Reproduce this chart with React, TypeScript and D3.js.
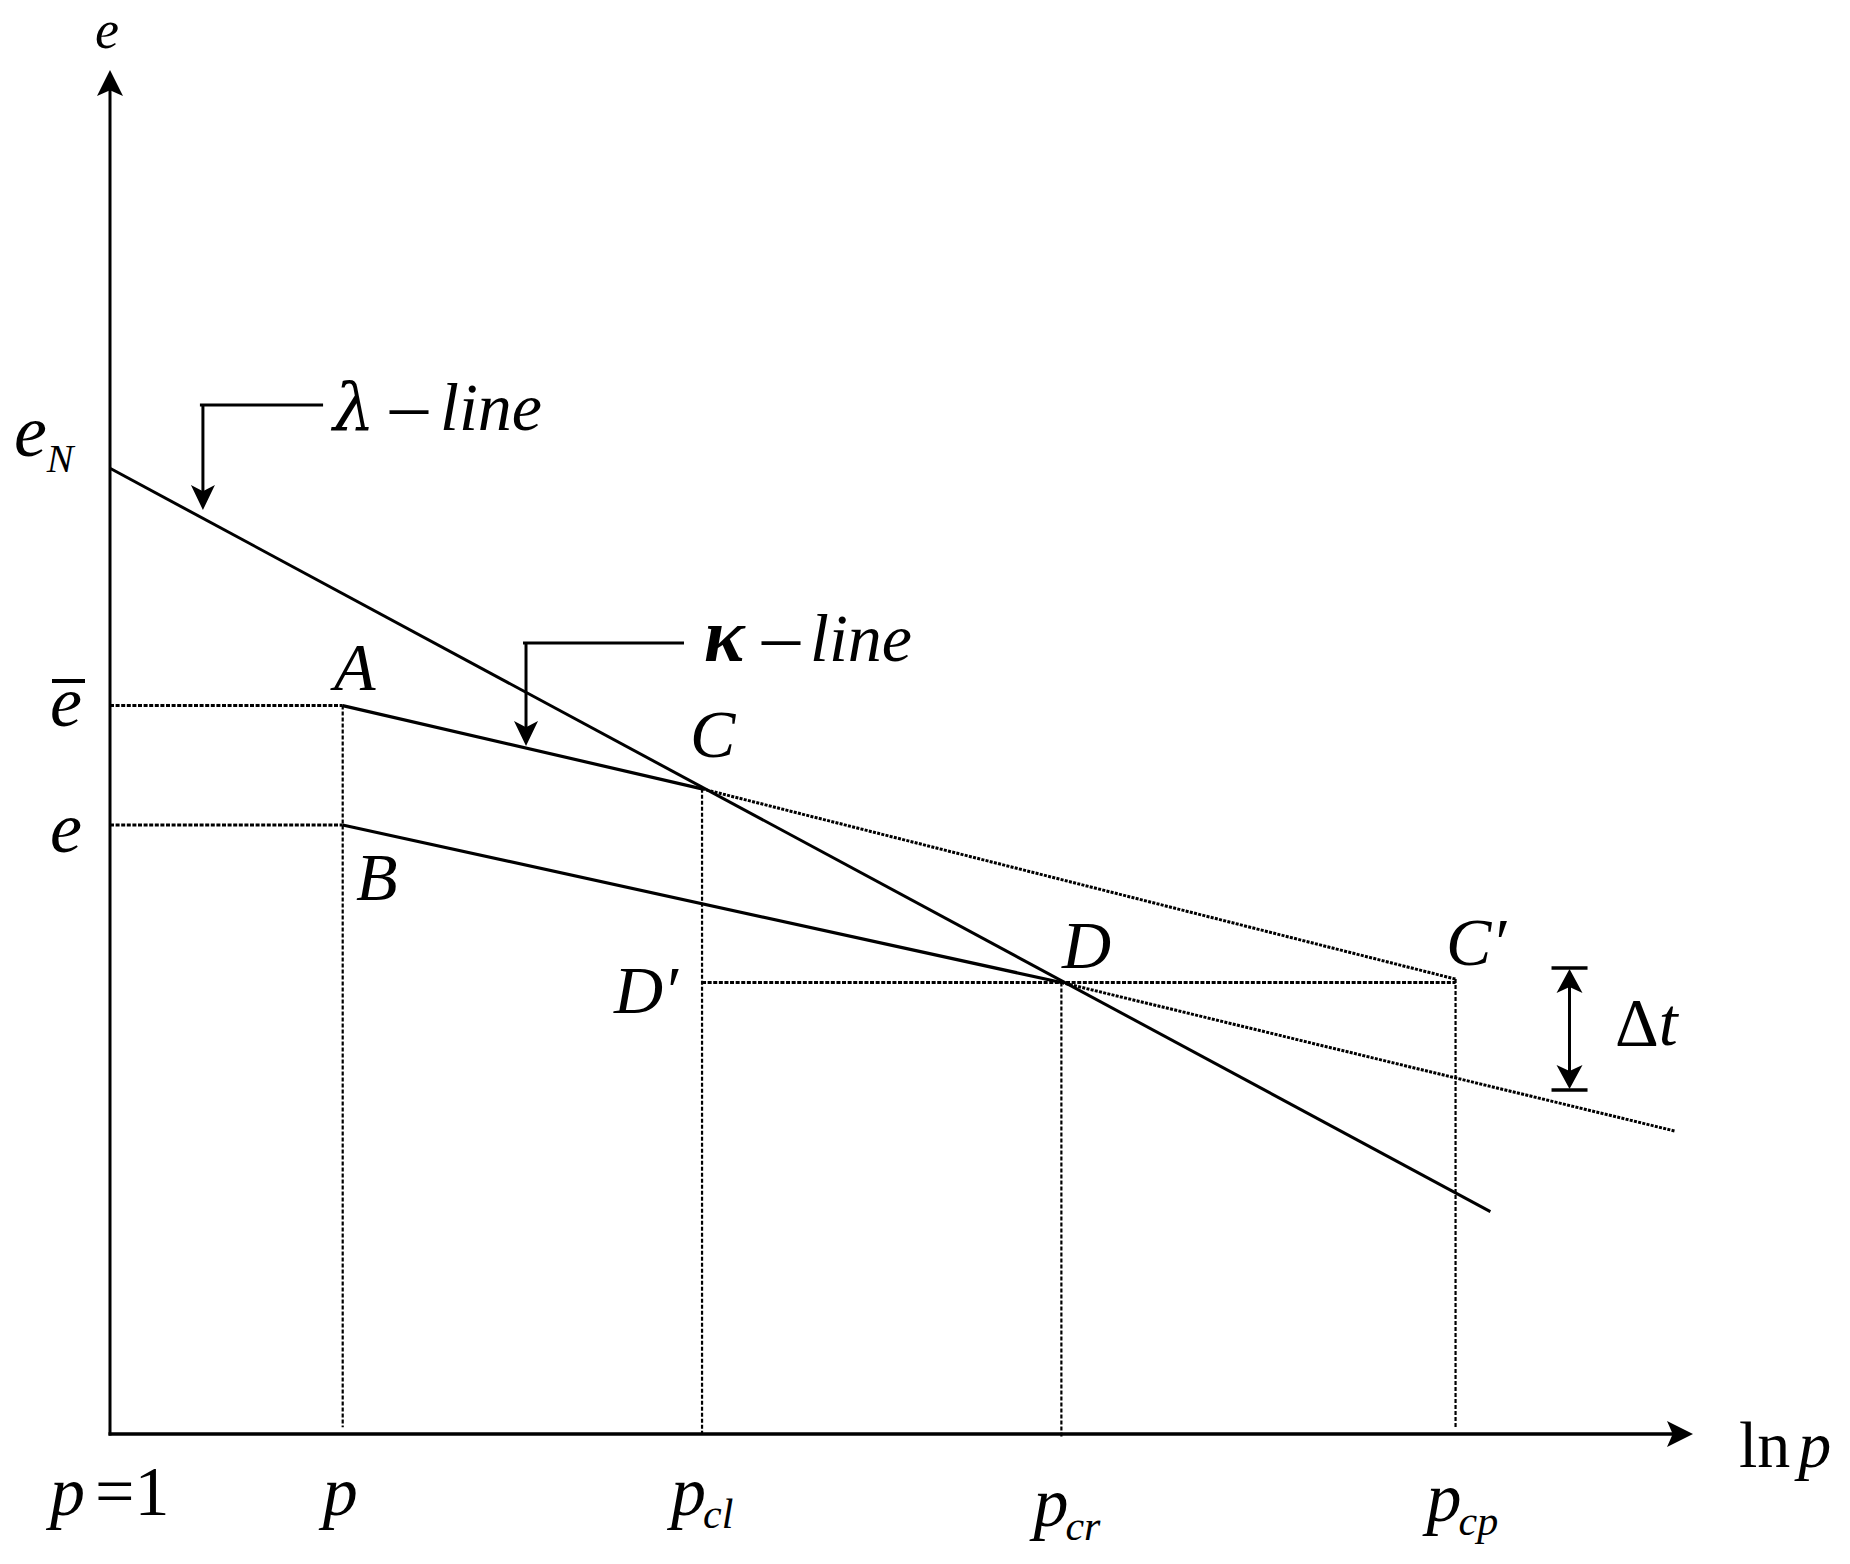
import React from "react";
import * as d3 from "d3";

const W = 1850;
const H = 1564;

// abstract axis domains: ln p (horizontal) and void ratio e (vertical)
const xDomain = [0, 10];
const yDomain = [0, 10];

// characteristic ln p positions
const pTickNames = ["p", "pcl", "pcr", "pcp"];
const pTickValues = [1.47, 3.74, 6.01, 8.5];

// e levels on the vertical axis
const eNValue = 7.08;
const eBarValue = 5.34;
const eValue = 4.465;

// λ-line (normal compression line)
const lambdaLine = [
  { x: 0, y: 7.08 },
  { x: 8.72, y: 1.63 },
];
// upper κ-line A → C (solid) and C → C′ (dotted)
const kappaUpperSolid = [
  { x: 1.47, y: 5.34 },
  { x: 3.74, y: 4.73 },
];
const kappaUpperDotted = [
  { x: 3.74, y: 4.73 },
  { x: 8.5, y: 3.335 },
];
// lower κ-line B → D (solid) and D → end (dotted)
const kappaLowerSolid = [
  { x: 1.47, y: 4.465 },
  { x: 6.01, y: 3.31 },
];
const kappaLowerDotted = [
  { x: 6.01, y: 3.31 },
  { x: 9.89, y: 2.22 },
];

// dotted guide lines
const dropLines = [
  { x: 1.47, y0: 5.34, y1: 0.05 },
  { x: 3.74, y0: 4.73, y1: 0 },
  { x: 6.01, y0: 3.31, y1: -0.03 },
  { x: 8.5, y0: 3.335, y1: 0.04 },
];
const levelLines = [
  { y: 5.34, x0: 0, x1: 1.47 },
  { y: 4.465, x0: 0, x1: 1.47 },
  { y: 3.31, x0: 3.74, x1: 8.5 },
];

// Δt marker
const deltaT = { x: 9.22, yTop: 3.416, yBottom: 2.522 };

// callout leaders (corner, end of horizontal, arrow tip)
const lambdaCallout = { x: 0.587, yTop: 7.544, yTip: 6.774, xEnd: 1.346 };
const kappaCallout = { x: 2.628, yTop: 5.8, yTip: 5.044, xEnd: 3.626 };

const FONT = "'Liberation Serif', 'Times New Roman', serif";
const GREEK = "'DejaVu Serif', 'Liberation Serif', serif";

function arrowHead(tx: number, ty: number, dx: number, dy: number, len = 25, wid = 25, notch = 0.22) {
  const px = -dy;
  const py = dx;
  const bx = tx - dx * len;
  const by = ty - dy * len;
  const nx = tx - dx * len * (1 - notch);
  const ny = ty - dy * len * (1 - notch);
  return `M${tx},${ty} L${bx + (px * wid) / 2},${by + (py * wid) / 2} L${nx},${ny} L${bx - (px * wid) / 2},${by - (py * wid) / 2} Z`;
}

export default function App() {
  const x = d3.scaleLinear().domain(xDomain).range([110, 1693]);
  const y = d3.scaleLinear().domain(yDomain).range([1434, 70]);
  const line = d3
    .line<{ x: number; y: number }>()
    .x((d) => x(d.x))
    .y((d) => y(d.y));

  const x0 = x(0);
  const y0 = y(0);
  const txt = { fontFamily: FONT, fontStyle: "italic" as const, fill: "#000" };

  return (
    <svg
      width={W}
      height={H}
      style={{ position: "absolute", left: 0, top: 0, background: "#fff" }}
    >
      <rect width={W} height={H} fill="#fff" />
      {/* axes */}
      <line x1={x0} y1={y0 + 1.5} x2={x0} y2={y(10) + 20} stroke="#000" strokeWidth={3} />
      <path d={arrowHead(x0, y(10), 0, -1, 26, 26)} fill="#000" />
      <line x1={x0 - 1.5} y1={y0} x2={x(10) - 20} y2={y0} stroke="#000" strokeWidth={3.5} />
      <path d={arrowHead(x(10), y0, 1, 0, 26, 26)} fill="#000" />

      {/* dotted guides */}
      {levelLines.map((l, i) => (
        <line
          key={"lv" + i}
          x1={x(l.x0)}
          x2={x(l.x1)}
          y1={y(l.y)}
          y2={y(l.y)}
          stroke="#000"
          strokeWidth={3}
          strokeDasharray="4 1.6"
        />
      ))}
      {dropLines.map((l, i) => (
        <line
          key={"dr" + i}
          x1={x(l.x)}
          x2={x(l.x)}
          y1={y(l.y0)}
          y2={y(l.y1)}
          stroke="#000"
          strokeWidth={2.2}
          strokeDasharray="4 2"
        />
      ))}

      {/* main lines */}
      <path d={line(lambdaLine) || ""} stroke="#000" strokeWidth={3} fill="none" />
      <path d={line(kappaUpperSolid) || ""} stroke="#000" strokeWidth={3.2} fill="none" />
      <path d={line(kappaLowerSolid) || ""} stroke="#000" strokeWidth={3.2} fill="none" />
      <path d={line(kappaUpperDotted) || ""} stroke="#000" strokeWidth={3} fill="none" strokeDasharray="3 1.3" />
      <path d={line(kappaLowerDotted) || ""} stroke="#000" strokeWidth={3} fill="none" strokeDasharray="3 1.3" />

      {/* callouts */}
      {[lambdaCallout, kappaCallout].map((c, i) => (
        <g key={"co" + i}>
          <line x1={x(c.x) - 3} x2={x(c.xEnd)} y1={y(c.yTop)} y2={y(c.yTop)} stroke="#000" strokeWidth={3} />
          <line x1={x(c.x)} x2={x(c.x)} y1={y(c.yTop)} y2={y(c.yTip) - 18} stroke="#000" strokeWidth={3} />
          <path d={arrowHead(x(c.x), y(c.yTip), 0, 1, 25, 24, 0.25)} fill="#000" />
        </g>
      ))}

      {/* Δt marker */}
      <line x1={x(deltaT.x) - 18} x2={x(deltaT.x) + 18} y1={y(deltaT.yTop)} y2={y(deltaT.yTop)} stroke="#000" strokeWidth={3.5} />
      <line x1={x(deltaT.x) - 18} x2={x(deltaT.x) + 18} y1={y(deltaT.yBottom)} y2={y(deltaT.yBottom)} stroke="#000" strokeWidth={3.5} />
      <line x1={x(deltaT.x)} x2={x(deltaT.x)} y1={y(deltaT.yTop) + 15} y2={y(deltaT.yBottom) - 15} stroke="#000" strokeWidth={3} />
      <path d={arrowHead(x(deltaT.x), y(deltaT.yTop) + 1, 0, -1, 24, 26, 0.25)} fill="#000" />
      <path d={arrowHead(x(deltaT.x), y(deltaT.yBottom) - 1, 0, 1, 24, 26, 0.25)} fill="#000" />

      {/* axis labels */}
      <text x={95} y={48} fontSize={54} {...txt}>e</text>
      <text x={1739} y={1467} fontSize={66} fontFamily={FONT} fill="#000">
        ln<tspan dx={8} fontStyle="italic">p</tspan>
      </text>

      {/* vertical axis values */}
      <text x={14} y={456} fontSize={74} {...txt}>
        e<tspan fontSize={40} dy={16}>N</tspan>
      </text>
      <text x={50} y={726} fontSize={72} {...txt}>e</text>
      <line x1={52} x2={85} y1={681} y2={681} stroke="#000" strokeWidth={4} />
      <text x={50} y={852} fontSize={72} {...txt}>e</text>

      {/* horizontal axis values */}
      <text x={50} y={1515} fontSize={70} fontFamily={FONT} fill="#000">
        <tspan fontStyle="italic">p</tspan>
        <tspan dx={10}>=1</tspan>
      </text>
      <text x={x(pTickValues[0]) - 20} y={1515} fontSize={70} {...txt}>p</text>
      <text x={x(pTickValues[1]) - 31} y={1515} fontSize={70} {...txt}>
        p<tspan fontSize={42} dy={13} dx={-3}>cl</tspan>
      </text>
      <text x={x(pTickValues[2]) - 28} y={1526} fontSize={70} {...txt}>
        p<tspan fontSize={42} dy={14} dx={-3}>cr</tspan>
      </text>
      <text x={x(pTickValues[3]) - 29} y={1521} fontSize={70} {...txt}>
        p<tspan fontSize={42} dy={14} dx={-3}>cp</tspan>
      </text>

      {/* line labels */}
      <text y={430} fontSize={68} {...txt}>
        <tspan x={333} fontFamily={GREEK} fontSize={66}>λ</tspan>
        <tspan x={390} fontStyle="normal" fontSize={76}>–</tspan>
        <tspan x={440}>line</tspan>
      </text>
      <text y={661} fontSize={68} {...txt}>
        <tspan x={704} fontWeight="bold" fontSize={76}>κ</tspan>
        <tspan x={762} fontStyle="normal" fontSize={76}>–</tspan>
        <tspan x={810}>line</tspan>
      </text>

      {/* point labels */}
      <text x={334} y={690} fontSize={68} {...txt}>A</text>
      <text x={356} y={900} fontSize={68} {...txt}>B</text>
      <text x={690} y={757} fontSize={68} {...txt}>C</text>
      <text x={1062} y={968} fontSize={68} {...txt}>D</text>
      <text x={614} y={1013} fontSize={68} {...txt}>D′</text>
      <text x={1446} y={965} fontSize={68} {...txt}>C′</text>
      <text x={1615} y={1045} fontSize={68} fontFamily={FONT} fill="#000">
        Δ<tspan fontStyle="italic">t</tspan>
      </text>
    </svg>
  );
}
